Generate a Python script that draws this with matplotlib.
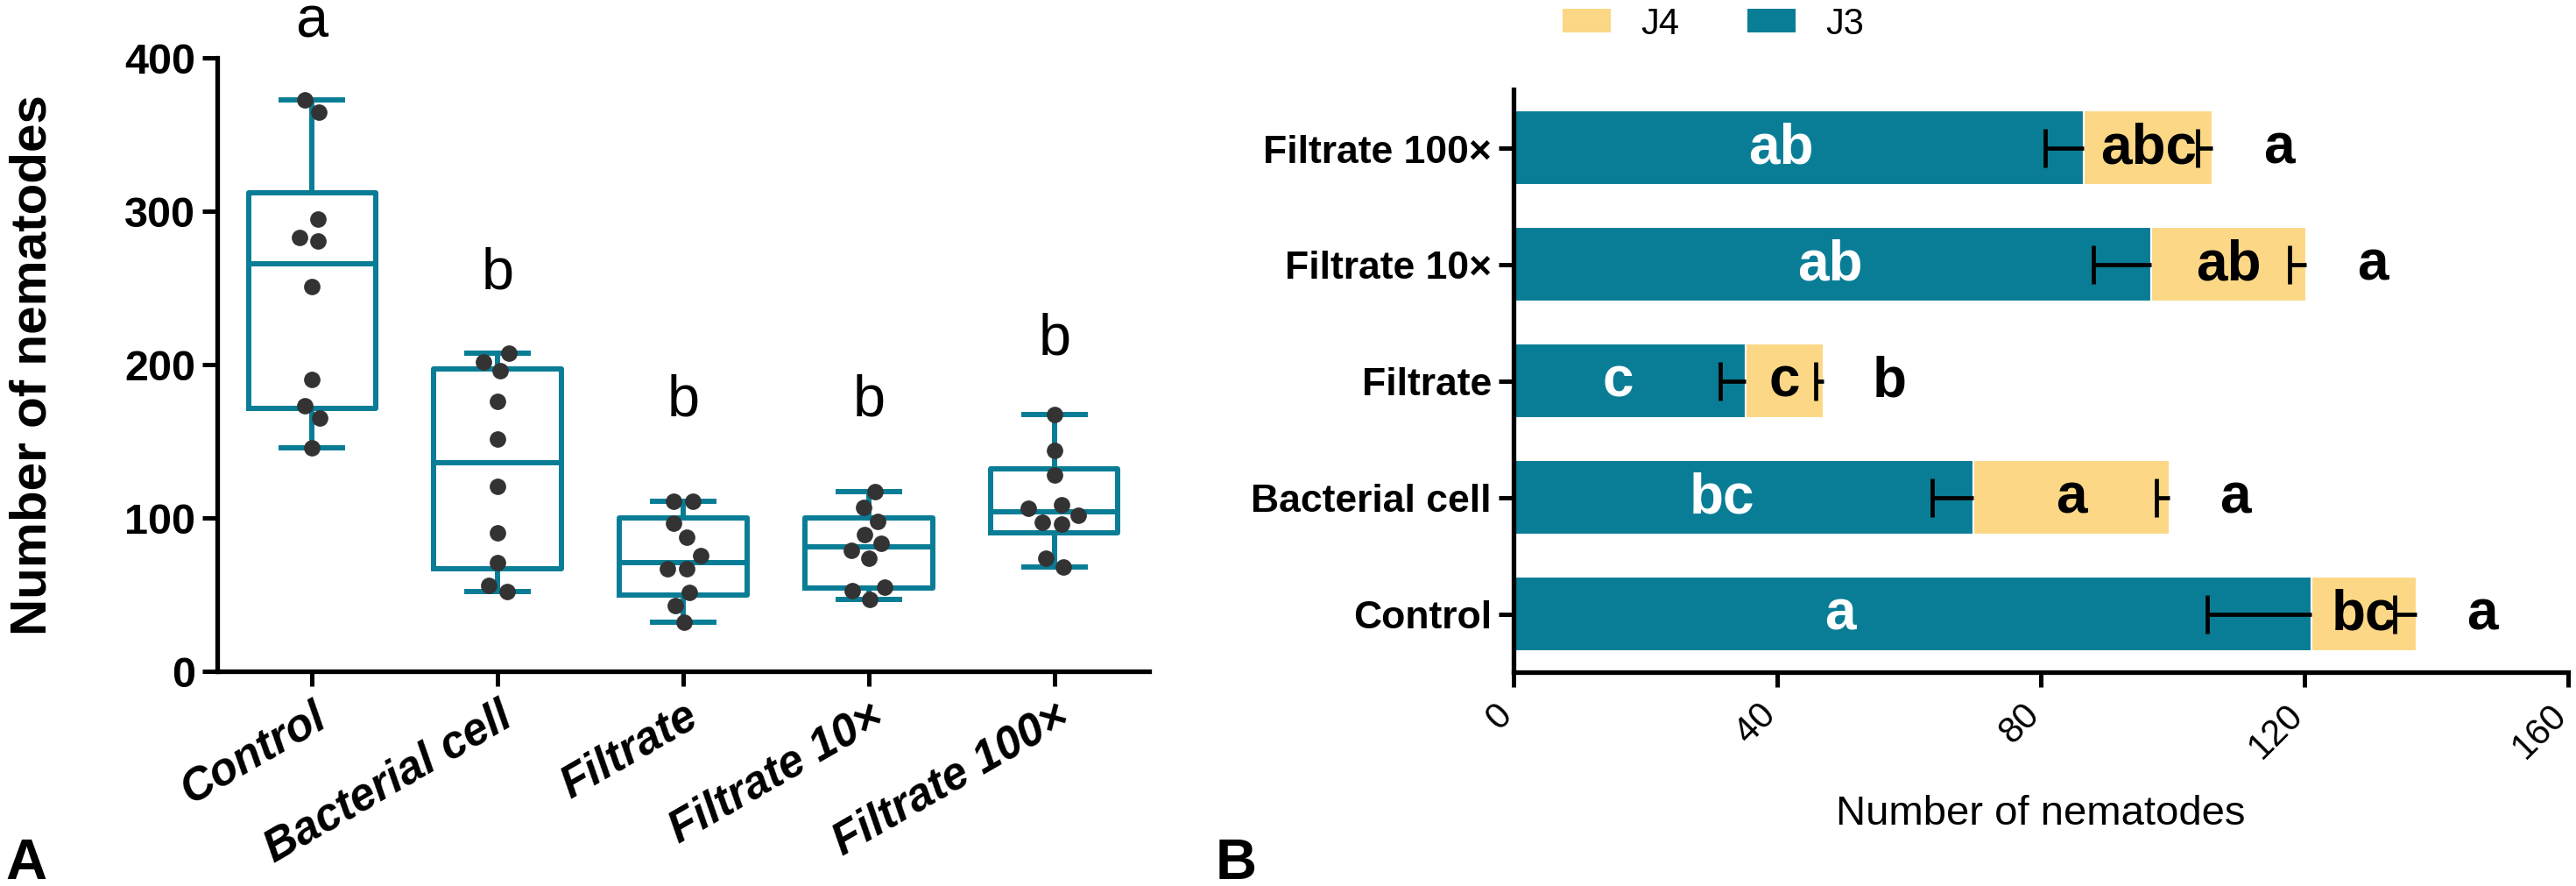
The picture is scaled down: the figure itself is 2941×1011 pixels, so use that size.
import numpy as np
import matplotlib
matplotlib.use("Agg")
import matplotlib.pyplot as plt
import matplotlib.transforms as mtransforms
from matplotlib.patches import Patch

plt.rcParams['font.family'] = ['Liberation Sans', 'DejaVu Sans']

# ---------------- data: panel A ----------------
groups_a = ["Control", "Bacterial cell", "Filtrate", "Filtrate 10×", "Filtrate 100×"]
control = [372.8, 364.6, 294.7, 283.0, 280.3, 250.9, 190.5, 173.3, 165.4, 145.6]
bacterial = [207.3, 201.9, 195.9, 176.1, 151.3, 120.5, 90.3, 70.7, 55.8, 52.2]
filtrate = [111.0, 110.7, 96.6, 87.6, 75.4, 66.7, 66.7, 51.7, 43.0, 31.8]
filtrate10 = [117.1, 106.9, 98.0, 89.0, 83.2, 78.8, 73.7, 54.6, 52.6, 46.9]
filtrate100 = [167.3, 143.9, 127.8, 108.7, 106.1, 101.8, 97.2, 95.9, 73.7, 67.9]
letters_a = ["a", "b", "b", "b", "b"]
letters_a_y = [414, 250, 167, 167, 207]
yticks_a = [0, 100, 200, 300, 400]

# ---------------- data: panel B ----------------
groups_b = ["Control", "Bacterial cell", "Filtrate", "Filtrate 10×", "Filtrate 100×"]
j3 = [121.1, 69.8, 35.2, 96.7, 86.5]
j4 = [15.9, 29.7, 11.8, 23.6, 19.6]
j3_sd = [15.8, 6.3, 3.9, 8.7, 5.8]
j4_sd = [3.3, 2.0, 1.2, 2.6, 2.3]
letters_j3 = ["a", "bc", "c", "ab", "ab"]
letters_j3_x = [49.6, 31.6, 15.8, 48.0, 40.6]
letters_j4 = ["bc", "a", "c", "ab", "abc"]
letters_total = ["a", "a", "b", "a", "a"]
xticks_b = [0, 40, 80, 120, 160]

TEAL = "#0A7D96"
YELLOW = "#FCD886"
DOT = "#333333"

W, H = 2941, 1012
fig = plt.figure(figsize=(W / 100, H / 100), dpi=100)

# ================= Panel A =================
axA = fig.add_axes([248 / W, 1 - 767 / H, (1312 - 248) / W, (767 - 67) / H])
axA.set_xlim(-0.51, 4.51)
axA.set_ylim(0, 400)

data_a = [control, bacterial, filtrate, filtrate10, filtrate100]
stats = []
for vals in data_a:
    v = np.asarray(vals)
    q1, med, q3 = np.percentile(v, [25, 50, 75], method="weibull")
    stats.append(dict(med=med, q1=q1, q3=q3, whislo=v.min(), whishi=v.max(), fliers=[]))

lw = 4.3
props = dict(color=TEAL, linewidth=lw, solid_joinstyle="round")
axA.bxp(stats, positions=range(len(stats)), widths=0.685, capwidths=0.33,
        showfliers=False, boxprops=props, whiskerprops=props, capprops=props,
        medianprops=props, manage_ticks=False)


def swarm(ypx, d):
    order = np.argsort(ypx)
    xs = np.zeros(len(ypx))
    placed = []
    for i in order:
        y = ypx[i]
        cands = [0.0]
        for (px, py) in placed:
            dy = abs(py - y)
            if dy < d:
                dx = np.sqrt(d * d - dy * dy)
                cands += [px + dx, px - dx]
        cands = sorted(cands, key=lambda c: (abs(c), c))
        for c in cands:
            if all((c - px) ** 2 + (y - py) ** 2 >= d * d - 1e-6 for px, py in placed):
                xs[i] = c
                placed.append((c, y))
                break
    idx = list(order)
    clusters = [[idx[0]]]
    for a, b in zip(idx[:-1], idx[1:]):
        if abs(ypx[b] - ypx[a]) < d:
            clusters[-1].append(b)
        else:
            clusters.append([b])
    for cl in clusters:
        xs[cl] -= np.mean(xs[cl])
    return xs


fig.canvas.draw()
px_per_unit = axA.transData.transform((1, 0))[0] - axA.transData.transform((0, 0))[0]
for i, vals in enumerate(data_a):
    v = np.asarray(vals)
    ypx = axA.transData.transform(np.column_stack([np.full(len(v), i), v]))[:, 1]
    off = swarm(ypx, 22.0) / px_per_unit
    axA.scatter(i + off, v, s=13.5 ** 2, color=DOT, zorder=4, linewidths=0, clip_on=False)

for i, (t, y) in enumerate(zip(letters_a, letters_a_y)):
    axA.text(i, y, t, ha="center", va="baseline", fontsize=48, clip_on=False)

for s in ["top", "right"]:
    axA.spines[s].set_visible(False)
for s in ["left", "bottom"]:
    axA.spines[s].set_linewidth(3.8)
axA.set_yticks(yticks_a)
axA.set_yticklabels([str(t) for t in yticks_a], fontsize=35, fontweight="bold")
axA.set_xticks(range(len(groups_a)))
axA.set_xticklabels(groups_a, fontsize=37, fontweight="bold", fontstyle="italic",
                    rotation=30, ha="right", va="top", rotation_mode="anchor")
axA.tick_params(axis="both", length=12, width=3.6, color="black")
axA.tick_params(axis="y", pad=6)
axA.tick_params(axis="x", pad=7)
axA.set_ylabel("Number of nematodes", fontsize=42, fontweight="bold")
axA.yaxis.set_label_coords(-0.172, 0.5)

# ================= Panel B =================
axB = fig.add_axes([1728 / W, 1 - 768 / H, (2932 - 1728) / W, (768 - 103) / H])
ypos = np.arange(len(groups_b))
j3a = np.asarray(j3)
j4a = np.asarray(j4)
tot = j3a + j4a
axB.barh(ypos, j3a, height=0.643, color=TEAL, edgecolor="white", linewidth=1.5, zorder=2)
axB.barh(ypos, j4a, left=j3a, height=0.643, color=YELLOW, edgecolor="white", linewidth=1.5, zorder=2)

zeros = np.zeros(len(ypos))
axB.errorbar(j3a, ypos, xerr=[j3_sd, zeros], fmt="none", ecolor="black", elinewidth=3.4, capsize=0, zorder=3)
axB.plot(j3a - np.asarray(j3_sd), ypos, ls="none", marker="|", markersize=31, mew=3.4, color="black", zorder=3)
axB.errorbar(tot, ypos, xerr=[j4_sd, zeros], fmt="none", ecolor="black", elinewidth=3.4, capsize=0, zorder=3)
axB.plot(tot - np.asarray(j4_sd), ypos, ls="none", marker="|", markersize=31, mew=3.4, color="black", zorder=3)

for i in range(len(ypos)):
    axB.text(letters_j3_x[i], ypos[i], letters_j3[i], color="white", fontsize=46, fontweight="bold",
             ha="center", va="center", zorder=4)
    axB.text((j3a[i] + tot[i]) / 2, ypos[i], letters_j4[i], color="black", fontsize=46, fontweight="bold",
             ha="center", va="center", zorder=4)
    axB.text(tot[i] + 10, ypos[i], letters_total[i], color="black", fontsize=46, fontweight="bold",
             ha="center", va="center", zorder=4)

axB.set_xlim(0, 160)
axB.set_ylim(-0.5, 4.5)
for s in ["top", "right"]:
    axB.spines[s].set_visible(False)
for s in ["left", "bottom"]:
    axB.spines[s].set_linewidth(3.8)
axB.set_yticks(ypos)
axB.set_yticklabels(groups_b, fontsize=32, fontweight="bold")
axB.set_xticks(xticks_b)
axB.set_xticklabels([str(t) for t in xticks_b], fontsize=30, rotation=45, ha="right",
                    va="top", rotation_mode="anchor")
axB.tick_params(axis="both", length=12, width=3.6, color="black")
axB.tick_params(axis="y", pad=6)
axB.tick_params(axis="x", pad=8)
shift = mtransforms.ScaledTranslation(-0.22, 0.0, fig.dpi_scale_trans)
for lab in axB.get_xticklabels():
    lab.set_transform(lab.get_transform() + shift)
axB.set_xlabel("Number of nematodes", fontsize=34)
axB.xaxis.set_label_coords(0.5, -0.209)

handles = [Patch(facecolor=YELLOW, edgecolor="none", label="J4"),
           Patch(facecolor=TEAL, edgecolor="none", label="J3")]
fig.legend(handles=handles, ncol=2, loc="center", bbox_to_anchor=(1956 / W, 1 - 28 / H),
           frameon=False, fontsize=30, handlelength=1.32, handleheight=0.6,
           handletextpad=0.84, columnspacing=1.85)

fig.text(6 / W, 1 - 1003 / H, "A", fontsize=47, fontweight="bold", va="baseline", ha="left")
fig.text(1388 / W, 1 - 1003 / H, "B", fontsize=47, fontweight="bold", va="baseline", ha="left")

fig.savefig("out.png", dpi=100)
